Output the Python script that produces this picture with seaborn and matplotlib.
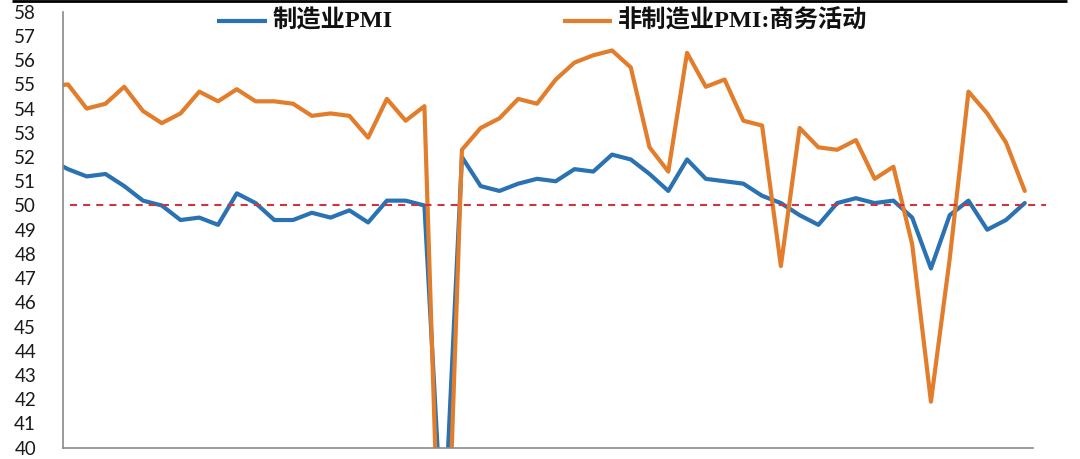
import matplotlib
matplotlib.use("Agg")
import matplotlib.pyplot as plt
from matplotlib.lines import Line2D
import numpy as np
import pandas as pd
import seaborn as sns

# ---- data (monthly, May 2018 .. Sep 2022) ----
months = pd.date_range("2018-05-01", "2022-09-01", freq="MS").strftime("%Y-%m").tolist()
mfg_pmi = [51.9, 51.5, 51.2, 51.3, 50.8, 50.2, 50.0, 49.4,
           49.5, 49.2, 50.5, 50.1, 49.4, 49.4, 49.7, 49.5, 49.8, 49.3, 50.2, 50.2,
           50.0, 35.7, 52.0, 50.8, 50.6, 50.9, 51.1, 51.0, 51.5, 51.4, 52.1, 51.9,
           51.3, 50.6, 51.9, 51.1, 51.0, 50.9, 50.4, 50.1, 49.6, 49.2, 50.1, 50.3,
           50.1, 50.2, 49.5, 47.4, 49.6, 50.2, 49.0, 49.4, 50.1]
nonmfg_pmi = [54.9, 55.0, 54.0, 54.2, 54.9, 53.9, 53.4, 53.8,
              54.7, 54.3, 54.8, 54.3, 54.3, 54.2, 53.7, 53.8, 53.7, 52.8, 54.4, 53.5,
              54.1, 29.6, 52.3, 53.2, 53.6, 54.4, 54.2, 55.2, 55.9, 56.2, 56.4, 55.7,
              52.4, 51.4, 56.3, 54.9, 55.2, 53.5, 53.3, 47.5, 53.2, 52.4, 52.3, 52.7,
              51.1, 51.6, 48.4, 41.9, 47.8, 54.7, 53.8, 52.6, 50.6]
series_names = ["制造业PMI", "非制造业PMI:商务活动"]
y_ticks = list(range(40, 59))
ref_level = 50

W, H = 1080, 459
sns.set_theme(style="white")
plt.rcParams["font.family"] = ["Lato", "DejaVu Sans"]

df = pd.DataFrame({
    "idx": list(range(len(months))) * 2,
    "value": mfg_pmi + nonmfg_pmi,
    "series": [series_names[0]] * len(months) + [series_names[1]] * len(months),
})

colors = {series_names[0]: "#2a72b2", series_names[1]: "#e27d2c"}

fig = plt.figure(figsize=(W / 100, H / 100), dpi=100)
ax_l, ax_r, ax_t, ax_b = 62.7, 1033, 11.7, 447.7
ax = fig.add_axes([ax_l / W, 1 - ax_b / H, (ax_r - ax_l) / W, (ax_b - ax_t) / H])

sns.lineplot(data=df, x="idx", y="value", hue="series", palette=colors,
             linewidth=3.0, legend=False, ax=ax, sort=False, estimator=None)
for ln in ax.get_lines():
    ln.set_solid_joinstyle("round")
    ln.set_solid_capstyle("round")

# reference line at 50 (extends a bit beyond plot)
ax.plot([1.11, 53.13], [ref_level, ref_level], color="#d0343c", lw=1.5,
        dashes=(3.4, 2.9), clip_on=False, zorder=5)

ax.set_xlim(0.72, 52.44)
ax.set_ylim(40, 58)
ax.set_yticks(y_ticks)
ax.set_yticklabels([str(v) for v in y_ticks], fontsize=13.5, color="#1a1a1a")
ax.set_xticks([0.72 + 2.986 * k for k in range(18)])
ax.set_xticklabels([])
ax.set_xlabel("")
ax.set_ylabel("")

for s in ["top", "right"]:
    ax.spines[s].set_visible(False)
for s in ["left", "bottom"]:
    ax.spines[s].set_color("#8a8a8a")
    ax.spines[s].set_linewidth(1.2)
ax.tick_params(axis="both", direction="out", length=4.8, width=1.2, color="#8a8a8a")
ax.tick_params(axis="y", pad=14.4)
ax.tick_params(axis="x", pad=2)

# legend drawn manually at the top
leg_font = dict(family=["Liberation Serif", "Noto Sans CJK SC"], weight="bold",
                size=17.5, color="#111111")
y_leg = 1 - 20.7 / H
for (x0, x1, xt), name in zip([(216.7, 266.7, 273), (563.3, 611.7, 618)], series_names):
    fig.add_artist(Line2D([x0 / W, x1 / W], [y_leg, y_leg], color=colors[name],
                          lw=3.0, solid_capstyle="butt"))
    fig.text(xt / W, y_leg, name, ha="left", va="center", **leg_font)

# black bar on the top edge
fig.add_artist(Line2D([12 / W, 1067 / W], [1 - 1.3 / H, 1 - 1.3 / H],
                      color="black", lw=2.0, solid_capstyle="butt"))

fig.savefig("out.png", dpi=100)
